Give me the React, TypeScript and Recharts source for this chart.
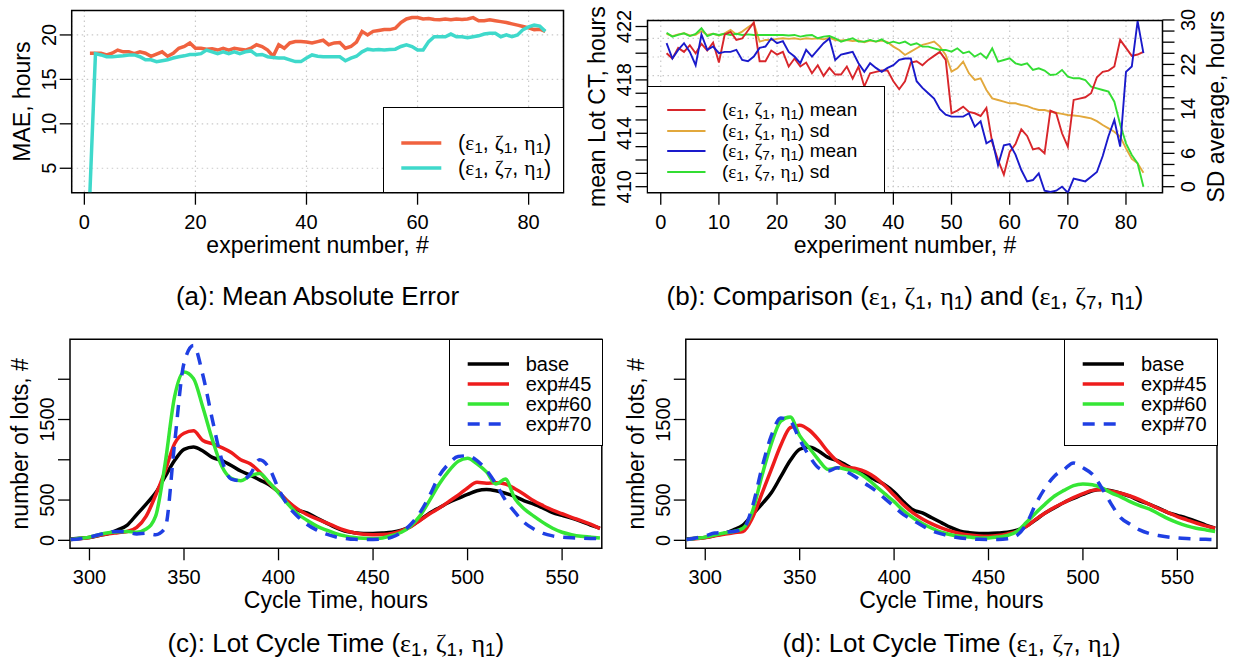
import React from 'react'
import { LineChart, Line, XAxis, YAxis, CartesianGrid, Legend, ReferenceArea, Label } from 'recharts'

const FONT = "'Liberation Sans', Arial, sans-serif"
const GREEK = "'Liberation Serif', 'Times New Roman', serif"

// ---------- data: experiment panels (a), (b) ----------
const EXPERIMENTS = Array.from({ length: 83 }, (_, i) => i + 1)

const MAE_Z1 = [
  17.94, 17.94, 17.94, 17.75, 17.94, 18.3, 18.1, 18.1, 17.9, 18.1,
  17.94, 17.6, 17.85, 18.1, 17.6, 17.94, 18.5, 18.7, 19.1, 18.5,
  18.5, 18.4, 18.45, 18.3, 18.5, 18.3, 18.5, 18.4, 18.3, 18.5,
  18.9, 18.7, 18.3, 17.6, 18.9, 18.5, 19.1, 19.25, 19.25, 19.2,
  19.1, 19.25, 19.4, 18.9, 19.1, 19.15, 18.5, 18.7, 19.2, 20.4,
  20.0, 20.4, 20.5, 20.6, 20.6, 20.75, 21.4, 21.8, 21.95, 21.95,
  21.8, 21.85, 21.75, 21.7, 21.8, 21.7, 21.8, 21.75, 21.8, 21.95,
  21.6, 21.6, 21.7, 21.6, 21.5, 21.4, 21.25, 21.1, 20.95, 20.8,
  20.6, 20.65, 20.4,
]
const MAE_Z7 = [
  2.3, 17.9, 17.75, 17.55, 17.55, 17.6, 17.65, 17.75, 17.75, 17.55,
  17.2, 17.2, 17.0, 17.1, 17.2, 17.4, 17.55, 17.65, 17.8, 17.8,
  17.9, 18.3, 18.1, 17.9, 18.1, 17.9, 18.1, 17.9, 18.1, 18.2,
  17.75, 17.8, 17.55, 17.45, 17.4, 17.4, 17.2, 17.0, 17.0, 17.4,
  17.75, 17.6, 17.55, 17.55, 17.55, 17.55, 17.1, 17.4, 17.6, 18.1,
  18.4, 18.3, 18.35, 18.3, 18.35, 18.4, 18.7, 18.9, 18.7, 18.3,
  18.3, 19.25, 19.8, 19.8, 19.8, 20.1, 19.8, 19.8, 19.7, 19.8,
  19.9, 20.1, 20.2, 20.2, 19.8, 20.0, 19.8, 20.0, 20.6, 20.9,
  21.1, 21.0, 20.4,
]

const MEAN_Z1 = [
  420.0, 419.6, 420.4, 420.1, 420.6, 420.0, 420.7, 420.2, 420.8, 419.3,
  421.4, 421.6, 421.0, 421.1, 421.7, 422.3, 419.4, 419.4, 420.2, 419.9,
  420.1, 419.0, 419.6, 419.0, 419.3, 418.5, 419.1, 418.3, 418.9, 418.4,
  418.4, 419.0, 418.1, 419.0, 417.5, 418.5, 418.6, 418.7, 418.7, 417.9,
  417.3, 417.9, 419.3, 419.4, 419.1, 419.5, 419.8, 420.1, 419.5, 415.5,
  415.7, 416.0, 415.6, 415.5, 415.3, 415.9, 413.3, 412.0, 410.9, 412.6,
  413.2, 414.3, 413.8, 412.8, 412.9, 412.5, 415.7, 415.5, 414.0, 413.0,
  416.5, 416.6, 416.7, 417.0, 418.2, 418.6, 418.7, 419.0, 421.0, 420.4,
  419.8, 419.9, 420.1,
]
const SD_Z1 = [
  27.5, 27.1, 27.4, 27.6, 27.2, 27.3, 28.0, 27.3, 27.5, 27.2,
  27.6, 28.2, 27.4, 27.9, 28.7, 29.4, 26.1, 26.4, 26.4, 26.6,
  26.7, 26.6, 26.7, 26.5, 26.7, 26.6, 26.7, 26.5, 26.8, 26.4,
  26.3, 26.4, 26.2, 26.3, 26.0, 26.3, 26.1, 26.3, 26.0, 25.2,
  24.6, 23.7, 24.3, 24.9, 25.5, 25.8, 26.1, 25.2, 23.7, 20.7,
  21.3, 22.5, 20.4, 19.2, 19.5, 17.4, 15.9, 15.6, 15.3, 15.0,
  15.0, 14.7, 14.5, 14.1, 13.8, 13.8, 13.5, 13.3, 13.1, 12.9,
  12.8, 12.7, 12.5, 12.3, 11.8, 11.1, 10.5, 9.9, 9.0, 6.9,
  5.0, 4.2, 2.5,
]
const MEAN_Z7 = [
  420.75, 419.6, 420.25, 420.75, 420.1, 419.1, 421.4, 420.25, 420.5, 420.0,
  420.1, 420.1, 420.25, 419.5, 419.4, 419.75, 420.4, 420.5, 421.1, 420.75,
  420.9, 420.1, 419.75, 419.25, 420.25, 419.75, 420.25, 420.75, 421.1, 419.5,
  419.9, 420.0, 420.1, 419.25, 418.6, 419.25, 418.9, 418.6, 418.9, 419.1,
  419.5, 419.6, 419.6, 417.9, 417.4, 417.0, 416.6, 415.8, 415.4, 415.25,
  415.25, 415.25, 415.5, 414.5, 414.9, 413.25, 413.5, 411.6, 413.1, 413.2,
  412.4, 411.25, 410.4, 410.5, 411.0, 409.7, 409.6, 409.7, 410.0, 409.55,
  410.6, 410.5, 410.4, 410.75, 411.1, 412.3, 413.8, 415.0, 413.0, 418.6,
  419.0, 422.4, 420.0,
]
const SD_Z7 = [
  27.7, 27.0, 27.3, 27.6, 27.1, 27.5, 28.5, 27.1, 27.5, 27.3,
  27.5, 27.3, 27.5, 27.3, 27.4, 27.3, 27.3, 27.3, 27.3, 27.3,
  27.3, 27.2, 27.3, 27.0, 27.2, 27.3, 26.7, 27.0, 27.1, 26.7,
  26.1, 26.4, 26.7, 26.1, 26.1, 26.4, 26.1, 26.5, 25.8, 26.1,
  25.8, 26.1, 25.5, 25.8, 25.2, 25.2, 24.9, 24.6, 24.6, 24.3,
  24.9, 24.0, 24.3, 23.4, 24.0, 23.1, 24.9, 22.5, 22.8, 23.1,
  22.2, 21.9, 22.2, 21.0, 21.3, 20.9, 20.1, 20.2, 21.0, 19.8,
  19.5, 19.5, 19.2, 18.0, 17.7, 17.4, 17.1, 15.3, 11.2, 7.8,
  5.7, 4.2, 0.0,
]

// ---------- data: cycle time panels (c), (d) ----------
const CYCLE_TIMES = Array.from({ length: 57 }, (_, i) => 290 + i * 5)

const BASE = [
  15, 25, 35, 60, 85, 130, 190, 320, 450, 590,
  790, 990, 1130, 1160, 1110, 1030, 990, 930, 860, 810,
  750, 690, 600, 480, 380, 340, 280, 220, 160, 115,
  95, 85, 85, 90, 100, 125, 175, 255, 340, 405,
  470, 520, 570, 615, 630, 615, 585, 545, 490, 450,
  400, 345, 310, 275, 235, 190, 150,
]
const C_EXP45 = [
  10, 20, 35, 60, 80, 95, 110, 160, 300, 560,
  860, 1200, 1330, 1360, 1240, 1200, 1150, 1090, 1000, 950,
  850, 710, 600, 480, 390, 320, 270, 220, 170, 125,
  95, 75, 70, 72, 85, 120, 170, 250, 330, 400,
  480, 560, 650, 720, 710, 715, 700, 640, 570, 490,
  430, 375, 330, 285, 245, 200, 145,
]
const C_EXP60 = [
  10, 25, 40, 70, 95, 105, 110, 100, 140, 300,
  950, 1780, 2090, 2010, 1650, 1250, 920, 770, 740, 800,
  830, 720, 590, 450, 330, 250, 180, 130, 85, 55,
  35, 25, 20, 30, 60, 100, 180, 310, 500, 700,
  860, 980, 1020, 950, 850, 700, 760, 520, 390, 300,
  220, 150, 100, 70, 50, 40, 30,
]
const C_EXP70 = [
  10, 20, 40, 70, 100, 110, 100, 80, 90, 70,
  150, 1200, 2200, 2420, 2050, 1500, 1000, 760, 740, 820,
  1000, 900, 640, 430, 300, 200, 130, 80, 45, 25,
  12, 10, 10, 15, 40, 100, 200, 350, 560, 800,
  950, 1040, 1050, 990, 870, 700, 500, 350, 220, 140,
  85, 55, 40, 32, 28, 24, 20,
]
const D_EXP45 = [
  10, 20, 35, 55, 75, 95, 110, 280, 580, 880,
  1180, 1400, 1430, 1370, 1250, 1100, 980, 910, 890, 850,
  780, 680, 560, 440, 340, 265, 205, 155, 115, 85,
  65, 55, 52, 60, 80, 110, 170, 260, 340, 410,
  470, 530, 580, 620, 630, 610, 585, 550, 505, 450,
  395, 345, 295, 255, 215, 180, 150,
]
const D_EXP60 = [
  10, 25, 40, 65, 90, 110, 150, 360, 800, 1200,
  1480, 1530, 1300, 1150, 1000, 880, 900, 880, 850, 780,
  680, 580, 480, 370, 280, 210, 150, 100, 70, 50,
  40, 30, 30, 40, 60, 110, 220, 340, 450, 550,
  620, 680, 700, 690, 650, 590, 540, 480, 430, 390,
  330, 270, 220, 180, 150, 130, 110,
]
const D_EXP70 = [
  10, 30, 55, 90, 100, 110, 140, 420, 900, 1300,
  1520, 1480, 1250, 1050, 900, 860, 900, 850, 780, 700,
  620, 520, 420, 320, 250, 180, 120, 80, 50, 30,
  20, 12, 10, 10, 20, 60, 200, 450, 650, 800,
  880, 960, 900, 820, 650, 450, 280, 200, 130, 85,
  60, 42, 30, 22, 16, 12, 10,
]

// ---------- axes ----------
const EXP_DOMAIN = [-2.28, 86.28]
const MAE_DOMAIN = [2.25, 22.75]
const MEAN_DOMAIN = [409.55, 422.45]
const SD_DOMAIN = [-1.08, 29.9]
const CT_DOMAIN = [289.7, 571]
const LOTS_DOMAIN = [-99, 2496]

const A_XTICKS = [0, 20, 40, 60, 80]
const A_YTICKS = [5, 10, 15, 20]
const B_XTICKS = [0, 10, 20, 30, 40, 50, 60, 70, 80]
const B_MEAN_TICKS = [410, 411, 412, 413, 414, 415, 416, 417, 418, 419, 420, 421, 422]
const B_MEAN_LABELS = [410, 414, 418, 422]
const B_SD_TICKS = [0, 2, 4, 6, 8, 10, 12, 14, 16, 18, 20, 22, 24, 26, 28, 30]
const B_SD_LABELS = [0, 6, 14, 22, 30]
const B_SD_GRID = [0, 3.33, 6.67, 10, 13.33, 16.67, 20, 23.33, 26.67, 30]
const CT_TICKS = [300, 350, 400, 450, 500, 550]
const LOTS_TICKS = [0, 500, 1000, 1500, 2000]
const LOTS_LABELS = [0, 500, 1500]

const COL = {
  maeZ1: '#f0623f',
  maeZ7: '#3fd9cb',
  meanZ1: '#d8262b',
  sdZ1: '#e2a83c',
  meanZ7: '#1a1acb',
  sdZ7: '#33dd33',
  base: '#000000',
  e45: '#ee1c1c',
  e60: '#35e635',
  e70: '#1f3fe3',
}

const maeRows = EXPERIMENTS.map((n, i) => ({ n, z1: MAE_Z1[i], z7: MAE_Z7[i] }))
const cmpRows = EXPERIMENTS.map((n, i) => ({
  n,
  mean1: MEAN_Z1[i],
  sd1: SD_Z1[i],
  mean7: MEAN_Z7[i],
  sd7: SD_Z7[i],
}))
const cRows = CYCLE_TIMES.map((ct, i) => ({ ct, base: BASE[i], e45: C_EXP45[i], e60: C_EXP60[i], e70: C_EXP70[i] }))
const dRows = CYCLE_TIMES.map((ct, i) => ({ ct, base: BASE[i], e45: D_EXP45[i], e60: D_EXP60[i], e70: D_EXP70[i] }))

// ---------- small pieces ----------
const Sub = ({ children }: { children: React.ReactNode }) => (
  <sub style={{ fontSize: '0.72em', verticalAlign: '-0.22em', lineHeight: 0 }}>{children}</sub>
)
const G = ({ children }: { children: React.ReactNode }) => (
  <span style={{ fontFamily: GREEK }}>{children}</span>
)
function Triple({ zeta }: { zeta: string }) {
  return (
    <span>
      (<G>ε</G>
      <Sub>1</Sub>, <G>ζ</G>
      <Sub>{zeta}</Sub>, <G>η</G>
      <Sub>1</Sub>)
    </span>
  )
}

const tickLine = { stroke: '#000', strokeWidth: 1.3 }

function BottomTick(props: any) {
  const { x, y, payload } = props
  return (
    <text x={x} y={y + 24} textAnchor='middle' fontSize={20} fontFamily={FONT} fill='#000'>
      {payload.value}
    </text>
  )
}

const leftTick = (labels: number[]) => (props: any) => {
  const { x, y, payload } = props
  if (!labels.includes(payload.value)) return <g />
  const bx = x - 4
  return (
    <text x={bx} y={y} transform={`rotate(-90 ${bx} ${y})`} textAnchor='middle' fontSize={20} fontFamily={FONT} fill='#000'>
      {payload.value}
    </text>
  )
}

const rightTick = (labels: number[]) => (props: any) => {
  const { x, y, payload } = props
  if (!labels.includes(payload.value)) return <g />
  const bx = x + 20.5
  return (
    <text x={bx} y={y} transform={`rotate(-90 ${bx} ${y})`} textAnchor='middle' fontSize={20} fontFamily={FONT} fill='#000'>
      {payload.value}
    </text>
  )
}

const xTitle = (text: string) => (props: any) => {
  const vb = props.viewBox
  return (
    <text x={vb.x + vb.width / 2} y={vb.y + 60} textAnchor='middle' fontSize={23} fontFamily={FONT} fill='#000'>
      {text}
    </text>
  )
}

const yTitle = (text: string, side: 'left' | 'right') => (props: any) => {
  const vb = props.viewBox
  const bx = side === 'left' ? vb.x + vb.width - 42 : vb.x + 62
  const cy = vb.y + vb.height / 2
  return (
    <text x={bx} y={cy} transform={`rotate(-90 ${bx} ${cy})`} textAnchor='middle' fontSize={23} fontFamily={FONT} fill='#000'>
      {text}
    </text>
  )
}

type Entry = { label: React.ReactNode; color: string; dash?: string }

function LegendBox({
  entries,
  width,
  height,
  rowY,
  line,
  textX,
  fontSize,
  lineWidth,
}: {
  entries: Entry[]
  width: number
  height: number
  rowY: number[]
  line: [number, number]
  textX: number
  fontSize: number
  lineWidth: number
}) {
  return (
    <div
      style={{
        position: 'relative',
        width,
        height,
        boxSizing: 'border-box',
        border: '1.5px solid #000',
        background: '#fff',
        fontFamily: FONT,
        fontSize,
        color: '#000',
      }}
    >
      {entries.map((e, i) => (
        <div key={i} style={{ position: 'absolute', left: 0, top: rowY[i] - 15, height: 30, width: '100%' }}>
          <svg width={line[1] + 6} height={30} style={{ position: 'absolute', left: 0, top: 0 }}>
            <line x1={line[0]} x2={line[1]} y1={15} y2={15} stroke={e.color} strokeWidth={lineWidth} strokeDasharray={e.dash} />
          </svg>
          <span style={{ position: 'absolute', left: textX, top: 0, lineHeight: '30px', whiteSpace: 'nowrap' }}>{e.label}</span>
        </div>
      ))}
    </div>
  )
}

const ctLegend: Entry[] = [
  { label: 'base', color: COL.base },
  { label: 'exp#45', color: COL.e45 },
  { label: 'exp#60', color: COL.e60 },
  { label: 'exp#70', color: COL.e70, dash: '12 9' },
]

// ---------- panel (a) ----------
function MaeChart() {
  return (
    <LineChart width={617} height={270} data={maeRows} margin={{ top: 10.5, right: 53.5, bottom: 0, left: 0 }}>
      <CartesianGrid stroke='#c9c9c9' strokeDasharray='1.5 3.5' strokeWidth={1.2} />
      <XAxis
        dataKey='n'
        type='number'
        domain={EXP_DOMAIN}
        ticks={A_XTICKS}
        allowDataOverflow
        interval={0}
        height={77.3}
        tickSize={12}
        tickMargin={0}
        axisLine={false}
        tickLine={tickLine}
        tick={BottomTick}
      >
        <Label content={xTitle('experiment number, #')} />
      </XAxis>
      <YAxis
        type='number'
        domain={MAE_DOMAIN}
        ticks={A_YTICKS}
        allowDataOverflow
        interval={0}
        width={71.7}
        tickSize={12}
        tickMargin={0}
        axisLine={false}
        tickLine={tickLine}
        tick={leftTick(A_YTICKS)}
      >
        <Label content={yTitle('MAE, hours', 'left')} />
      </YAxis>
      <Line dataKey='z1' stroke={COL.maeZ1} strokeWidth={3.5} dot={false} isAnimationActive={false} />
      <Line dataKey='z7' stroke={COL.maeZ7} strokeWidth={3.5} dot={false} isAnimationActive={false} />
      <ReferenceArea
        x1={EXP_DOMAIN[0]}
        x2={EXP_DOMAIN[1]}
        y1={MAE_DOMAIN[0]}
        y2={MAE_DOMAIN[1]}
        fill='none'
        stroke='#000'
        strokeWidth={1.5}
        ifOverflow='visible'
      />
      <Legend
        layout='vertical'
        align='center'
        verticalAlign='middle'
        wrapperStyle={{ left: 382.7, top: 107.3, width: 181.6, height: 86.2 }}
        content={() => (
          <LegendBox
            entries={[
              { label: <Triple zeta='1' />, color: COL.maeZ1 },
              { label: <Triple zeta='7' />, color: COL.maeZ7 },
            ]}
            width={181.6}
            height={86.2}
            rowY={[34.4, 59.4]}
            line={[17.3, 57.3]}
            textX={74.3}
            fontSize={21.5}
            lineWidth={3.5}
          />
        )}
      />
    </LineChart>
  )
}

// ---------- panel (b) ----------
function CompareChart() {
  return (
    <LineChart width={654} height={270} data={cmpRows} margin={{ top: 20.5, right: 0, bottom: 0, left: 0 }}>
      <CartesianGrid
        yAxisId='sd'
        horizontalValues={B_SD_GRID}
        stroke='#c9c9c9'
        strokeDasharray='1.5 3.5'
        strokeWidth={1.2}
      />
      <XAxis
        dataKey='n'
        type='number'
        domain={EXP_DOMAIN}
        ticks={B_XTICKS}
        allowDataOverflow
        interval={0}
        height={77.3}
        tickSize={12}
        tickMargin={0}
        axisLine={false}
        tickLine={tickLine}
        tick={BottomTick}
      >
        <Label content={xTitle('experiment number, #')} />
      </XAxis>
      <YAxis
        yAxisId='mean'
        type='number'
        domain={MEAN_DOMAIN}
        ticks={B_MEAN_TICKS}
        allowDataOverflow
        interval={0}
        width={67.5}
        tickSize={12}
        tickMargin={0}
        axisLine={false}
        tickLine={tickLine}
        tick={leftTick(B_MEAN_LABELS)}
      >
        <Label content={yTitle('mean Lot CT, hours', 'left')} />
      </YAxis>
      <YAxis
        yAxisId='sd'
        orientation='right'
        type='number'
        domain={SD_DOMAIN}
        ticks={B_SD_TICKS}
        allowDataOverflow
        interval={0}
        width={71.5}
        tickSize={12}
        tickMargin={0}
        axisLine={false}
        tickLine={tickLine}
        tick={rightTick(B_SD_LABELS)}
      >
        <Label content={yTitle('SD average, hours', 'right')} />
      </YAxis>
      <Line yAxisId='sd' dataKey='sd1' stroke={COL.sdZ1} strokeWidth={1.9} dot={false} isAnimationActive={false} />
      <Line yAxisId='sd' dataKey='sd7' stroke={COL.sdZ7} strokeWidth={1.9} dot={false} isAnimationActive={false} />
      <Line yAxisId='mean' dataKey='mean1' stroke={COL.meanZ1} strokeWidth={1.9} dot={false} isAnimationActive={false} />
      <Line yAxisId='mean' dataKey='mean7' stroke={COL.meanZ7} strokeWidth={1.9} dot={false} isAnimationActive={false} />
      <ReferenceArea
        yAxisId='mean'
        x1={EXP_DOMAIN[0]}
        x2={EXP_DOMAIN[1]}
        y1={MEAN_DOMAIN[0]}
        y2={MEAN_DOMAIN[1]}
        fill='none'
        stroke='#000'
        strokeWidth={1.5}
        ifOverflow='visible'
      />
      <Legend
        layout='vertical'
        align='center'
        verticalAlign='middle'
        wrapperStyle={{ left: 66.8, top: 86, width: 238.2, height: 107.4 }}
        content={() => (
          <LegendBox
            entries={[
              { label: <span><Triple zeta='1' /> mean</span>, color: COL.meanZ1 },
              { label: <span><Triple zeta='1' /> sd</span>, color: COL.sdZ1 },
              { label: <span><Triple zeta='7' /> mean</span>, color: COL.meanZ7 },
              { label: <span><Triple zeta='7' /> sd</span>, color: COL.sdZ7 },
            ]}
            width={238.2}
            height={107.4}
            rowY={[23, 43.7, 64.4, 85.1]}
            line={[19.2, 57.5]}
            textX={74.2}
            fontSize={19}
            lineWidth={1.9}
          />
        )}
      />
    </LineChart>
  )
}

// ---------- panels (c), (d) ----------
function CycleChart({ rows, yAxisWidth, rightMargin }: { rows: typeof cRows; yAxisWidth: number; rightMargin: number }) {
  const plotRight = 617 - rightMargin
  return (
    <LineChart width={617} height={342} data={rows} margin={{ top: 19.3, right: rightMargin, bottom: 0, left: 0 }}>
      <XAxis
        dataKey='ct'
        type='number'
        domain={CT_DOMAIN}
        ticks={CT_TICKS}
        allowDataOverflow
        interval={0}
        height={113.7}
        tickSize={12}
        tickMargin={0}
        axisLine={false}
        tickLine={tickLine}
        tick={BottomTick}
      >
        <Label content={xTitle('Cycle Time, hours')} />
      </XAxis>
      <YAxis
        type='number'
        domain={LOTS_DOMAIN}
        ticks={LOTS_TICKS}
        allowDataOverflow
        interval={0}
        width={yAxisWidth}
        tickSize={12}
        tickMargin={0}
        axisLine={false}
        tickLine={tickLine}
        tick={leftTick(LOTS_LABELS)}
      >
        <Label content={yTitle('number of lots, #', 'left')} />
      </YAxis>
      <Line type='monotone' dataKey='base' stroke={COL.base} strokeWidth={3.5} dot={false} isAnimationActive={false} />
      <Line type='monotone' dataKey='e45' stroke={COL.e45} strokeWidth={3.5} dot={false} isAnimationActive={false} />
      <Line type='monotone' dataKey='e60' stroke={COL.e60} strokeWidth={3.5} dot={false} isAnimationActive={false} />
      <Line
        type='monotone'
        dataKey='e70'
        stroke={COL.e70}
        strokeWidth={3.5}
        strokeDasharray='12 9'
        dot={false}
        isAnimationActive={false}
      />
      <ReferenceArea
        x1={CT_DOMAIN[0]}
        x2={CT_DOMAIN[1]}
        y1={LOTS_DOMAIN[0]}
        y2={LOTS_DOMAIN[1]}
        fill='none'
        stroke='#000'
        strokeWidth={1.5}
        ifOverflow='visible'
      />
      <Legend
        layout='vertical'
        align='center'
        verticalAlign='middle'
        wrapperStyle={{ left: plotRight - 152.6, top: 18.6, width: 153.4, height: 107.4 }}
        content={() => (
          <LegendBox
            entries={ctLegend}
            width={153.4}
            height={107.4}
            rowY={[24, 44, 64, 84]}
            line={[17.7, 59]}
            textX={75.5}
            fontSize={20}
            lineWidth={3.5}
          />
        )}
      />
    </LineChart>
  )
}

function Caption({ cx, top, children }: { cx: number; top: number; children: React.ReactNode }) {
  return (
    <div
      style={{
        position: 'absolute',
        left: cx - 300,
        top,
        width: 600,
        textAlign: 'center',
        fontSize: 26,
        lineHeight: '30px',
        fontFamily: FONT,
        whiteSpace: 'nowrap',
      }}
    >
      {children}
    </div>
  )
}

export default function App() {
  return (
    <div style={{ position: 'relative', width: 1234, height: 662, background: '#fff', overflow: 'hidden', color: '#000' }}>
      <style>{'body{margin:0}'}</style>
      <div style={{ position: 'absolute', left: 0, top: 0 }}>
        <MaeChart />
      </div>
      <div style={{ position: 'absolute', left: 580, top: 0 }}>
        <CompareChart />
      </div>
      <div style={{ position: 'absolute', left: 0, top: 320 }}>
        <CycleChart rows={cRows} yAxisWidth={70} rightMargin={15.2} />
      </div>
      <div style={{ position: 'absolute', left: 617, top: 320 }}>
        <CycleChart rows={dRows} yAxisWidth={68.8} rightMargin={17} />
      </div>
      <Caption cx={317.5} top={281}>(a): Mean Absolute Error</Caption>
      <Caption cx={905} top={281}>
        (b): Comparison <Triple zeta='1' /> and <Triple zeta='7' />
      </Caption>
      <Caption cx={335.8} top={628}>
        (c): Lot Cycle Time <Triple zeta='1' />
      </Caption>
      <Caption cx={951.5} top={628}>
        (d): Lot Cycle Time <Triple zeta='7' />
      </Caption>
    </div>
  )
}
